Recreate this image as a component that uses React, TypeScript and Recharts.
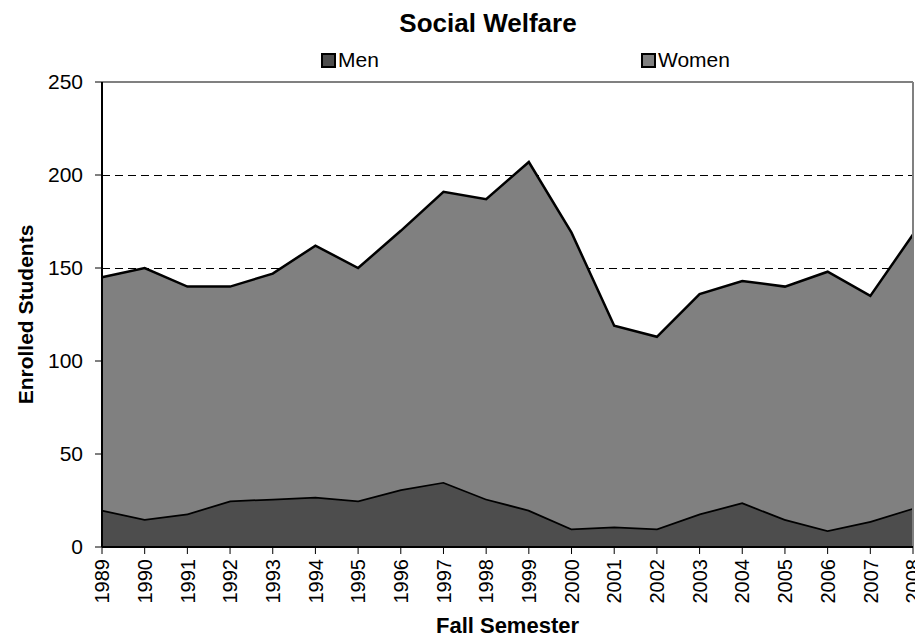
import React from 'react';
import { AreaChart, Area, XAxis, YAxis, CartesianGrid, Legend, ReferenceLine } from 'recharts';

const years = ['1989', '1990', '1991', '1992', '1993', '1994', '1995', '1996', '1997', '1998',
  '1999', '2000', '2001', '2002', '2003', '2004', '2005', '2006', '2007', '2008'];
const men = [20, 15, 18, 25, 26, 27, 25, 31, 35, 26, 20, 10, 11, 10, 18, 24, 15, 9, 14, 21];
const women = [125, 135, 122, 115, 121, 135, 125, 139, 156, 161, 187, 159, 108, 103, 118, 119, 125, 139, 121, 147];
const yTicks = [0, 50, 100, 150, 200, 250];

const data = years.map((year, i) => ({ year, men: men[i], women: women[i] }));

const font = '"Liberation Sans", Arial, sans-serif';
const menColor = '#4d4d4d';
const womenColor = '#808080';

const XTick = ({ x, y, payload }: any) => (
  <g transform={`translate(${x},${y + 3}) rotate(-90)`}>
    <text x={0} y={0} dy="0.36em" textAnchor="end" fontSize={20} fill="#000">
      {payload.value}
    </text>
  </g>
);

const YTitle = ({ viewBox }: any) => {
  const cx = 25;
  const cy = viewBox.y + viewBox.height / 2;
  return (
    <text x={cx} y={cy} transform={`rotate(-90, ${cx}, ${cy})`} textAnchor="middle" dy="0.36em"
      fontSize={21} fontWeight="bold" fill="#000">
      Enrolled Students
    </text>
  );
};

const XTitle = ({ viewBox }: any) => (
  <text x={viewBox.x + viewBox.width / 2} y={633} textAnchor="middle" fontSize={22} fontWeight="bold" fill="#000">
    Fall Semester
  </text>
);

const legendLeft = [321, 641];

const LegendContent = ({ payload }: any) => (
  <div style={{ position: 'relative', width: 915, height: 24 }}>
    {(payload || []).map((p: any, i: number) => (
      <div key={p.value} style={{ position: 'absolute', left: legendLeft[i], top: 0, display: 'flex', alignItems: 'center' }}>
        <span style={{ display: 'inline-block', width: 11, height: 11, background: i === 0 ? menColor : womenColor, border: '2px solid #000', marginRight: 2 }} />
        <span style={{ fontSize: 21, lineHeight: '24px', color: '#000' }}>{p.value}</span>
      </div>
    ))}
  </div>
);

export default function App() {
  return (
    <div style={{ position: 'absolute', left: 0, top: 0, width: 915, height: 639, background: '#fff', fontFamily: font }}>
      <div style={{ position: 'absolute', top: 8, left: 0, width: 976, textAlign: 'center', fontSize: 26, fontWeight: 'bold', lineHeight: '30px' }}>
        Social Welfare
      </div>
      <AreaChart width={915} height={639} data={data} margin={{ top: 82, right: 2, left: 0, bottom: 0 }}>
        <CartesianGrid vertical={false} stroke="#000" strokeDasharray="8 5" shapeRendering="crispEdges" />
        <XAxis dataKey="year" height={92} tick={<XTick />} tickSize={7} axisLine={{ stroke: '#000', strokeWidth: 2 }}
          tickLine={{ stroke: '#000' }} interval={0} label={<XTitle />} />
        <YAxis width={102} domain={[0, 250]} ticks={yTicks} tickSize={7} tickMargin={12}
          tick={{ fill: '#000', fontSize: 21 }} axisLine={{ stroke: '#000', strokeWidth: 2 }}
          tickLine={{ stroke: '#000' }} label={<YTitle />} />
        <Legend layout="horizontal" verticalAlign="middle" align="center" content={<LegendContent />}
          wrapperStyle={{ top: 48, left: 0, width: 915 }} />
        <Area type="linear" dataKey="men" name="Men" stackId="a" fill={menColor} fillOpacity={1}
          stroke="#000" strokeWidth={3.5} isAnimationActive={false} />
        <Area type="linear" dataKey="women" name="Women" stackId="a" fill={womenColor} fillOpacity={1}
          stroke="#000" strokeWidth={2.5} isAnimationActive={false} />
        <ReferenceLine y={250} stroke="#808080" strokeWidth={2} />
        <ReferenceLine x="2008" stroke="#808080" strokeWidth={2} />
      </AreaChart>
    </div>
  );
}
